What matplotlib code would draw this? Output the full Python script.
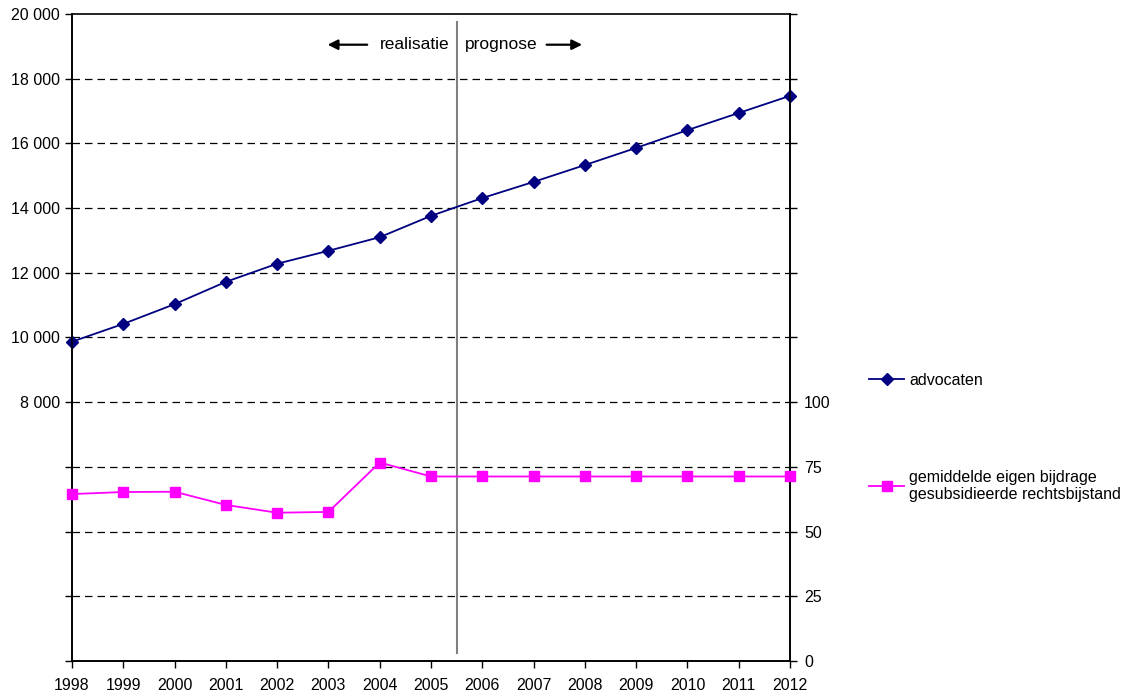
import matplotlib
matplotlib.use("Agg")
import matplotlib.pyplot as plt

plt.rcParams['font.family'] = ['Liberation Sans', 'DejaVu Sans']

years = list(range(1998, 2013))
advocaten = [9870, 10420, 11030, 11720, 12280, 12680, 13100, 13760, 14310,
             14810, 15330, 15860, 16410, 16940, 17470]
bijdrage = [64.5, 65.3, 65.4, 60.3, 57.3, 57.6, 76.7, 71.3, 71.3,
            71.3, 71.3, 71.3, 71.3, 71.3, 71.3]

left_ticks = list(range(0, 20001, 2000))
left_labels = ['' if v < 8000 else f"{v:,}".replace(',', ' ') for v in left_ticks]
right_ticks = list(range(0, 251, 25))
right_labels = [str(v) if v <= 100 else '' for v in right_ticks]

fig = plt.figure(figsize=(11.32, 6.95), dpi=100)
ax = fig.add_axes([0.0636, 0.0489, 0.6343, 0.931])
ax2 = ax.twinx()

ax.set_xlim(1998, 2012)
ax.set_ylim(0, 20000)
ax2.set_ylim(0, 250)

for v in left_ticks[1:-1]:
    ax.axhline(v, color='black', lw=0.9, ls=(0, (6, 4)), zorder=1)
ax.axhline(20000, color='black', lw=1.2, zorder=1, clip_on=False)

ax.axvline(2005.5, ymin=247 / 20000, ymax=19753 / 20000, color='#808080', lw=1.5, zorder=2)

l1, = ax.plot(years, advocaten, color='#000080', marker='D', markersize=6,
              lw=1.3, zorder=4, clip_on=False, label='advocaten')
l2, = ax2.plot(years, bijdrage, color='#FF00FF', marker='s', markersize=7,
               lw=1.3, zorder=4, clip_on=False,
               label='gemiddelde eigen bijdrage\ngesubsidieerde rechtsbijstand')

ax.set_xticks(years)
ax.set_xticklabels([str(y) for y in years])
ax.set_yticks(left_ticks)
ax.set_yticklabels(left_labels)
ax2.set_yticks(right_ticks)
ax2.set_yticklabels(right_labels)

for a in (ax, ax2):
    a.tick_params(axis='both', labelsize=11.5, length=5, width=1, direction='out', colors='black')
    for s in a.spines.values():
        s.set_linewidth(1.2)
    a.spines['top'].set_visible(False)
ax.tick_params(axis='x', pad=7)
ax2.tick_params(axis='y', pad=5)

# annotations
ax.text(2005.37, 19050, 'realisatie', ha='right', va='center', fontsize=12.5)
ax.text(2005.66, 19050, 'prognose', ha='left', va='center', fontsize=12.5)
ax.annotate('', xy=(2002.93, 19050), xytext=(2003.81, 19050),
            arrowprops=dict(arrowstyle='-|>', color='black', lw=1.6, mutation_scale=15))
ax.annotate('', xy=(2008.0, 19050), xytext=(2007.2, 19050),
            arrowprops=dict(arrowstyle='-|>', color='black', lw=1.6, mutation_scale=15))

# legend entries
fig.legend([l1], [l1.get_label()], loc='center left', bbox_to_anchor=(0.755, 0.453),
           frameon=False, fontsize=11.5, handlelength=2.2, handletextpad=0.3, markerscale=1.0)
fig.legend([l2], [l2.get_label()], loc='center left', bbox_to_anchor=(0.755, 0.301),
           frameon=False, fontsize=11.5, handlelength=2.2, handletextpad=0.3, markerscale=1.0)

fig.savefig('out.png', dpi=100)
